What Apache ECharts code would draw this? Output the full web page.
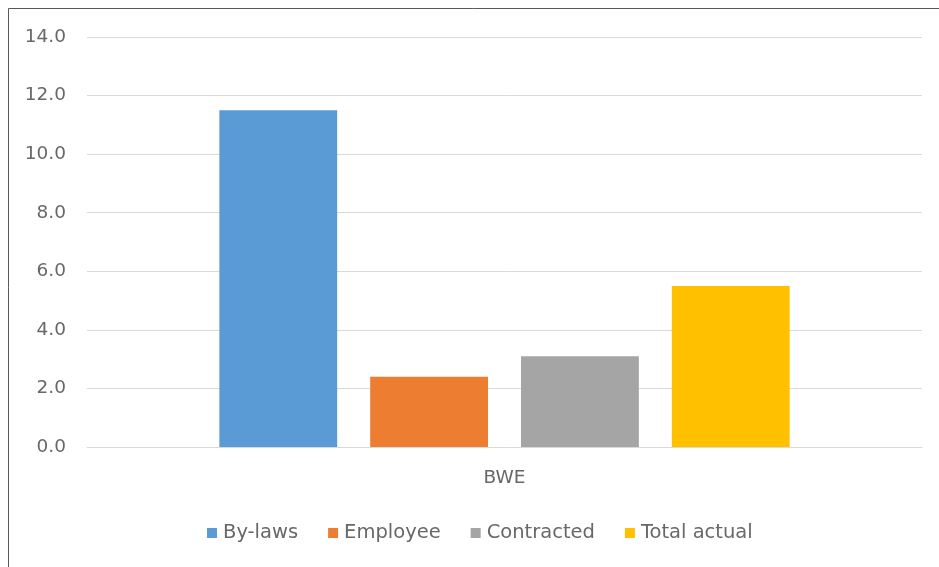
<!DOCTYPE html>
<html>
<head>
<meta charset="utf-8">
<script src="https://cdn.jsdelivr.net/npm/echarts@6/dist/echarts.min.js"></script>
<style>
  html, body { margin: 0; padding: 0; background: #ffffff; }
  #chart { width: 939px; height: 567px; }
</style>
</head>
<body>
<div id="chart"></div>
<script>
// Category and series values
const categories = ['BWE'];
const seriesNames = ['By-laws', 'Employee', 'Contracted', 'Total actual'];
const byLaws = [11.5];
const employee = [2.4];
const contracted = [3.1];
const totalActual = [5.5];
const yTicks = { min: 0, max: 14, interval: 2 };

const colors = ['#5b9bd5', '#ed7d31', '#a5a5a5', '#ffc000'];
const values = [byLaws, employee, contracted, totalActual];

const chart = echarts.init(document.getElementById('chart'), null, { renderer: 'canvas' });

const textStyle = { fontFamily: 'DejaVu Sans, sans-serif', color: '#686868', fontSize: 18.5 };

chart.setOption({
  animation: false,
  backgroundColor: '#ffffff',
  color: colors,
  grid: { left: 87, right: 17, top: 37, bottom: 120, containLabel: false },
  legend: {
    top: 523,
    left: 207,
    padding: 0,
    itemWidth: 10,
    itemHeight: 10,
    itemGap: 30,
    icon: 'rect',
    textStyle: Object.assign({}, textStyle, { fontSize: 19.5, padding: [0, 0, 0, 1] }),
    data: seriesNames
  },
  xAxis: {
    type: 'category',
    data: categories,
    axisLine: { show: true, lineStyle: { color: '#d9d9d9', width: 1 } },
    axisTick: { show: false },
    axisLabel: Object.assign({}, textStyle, { margin: 22 })
  },
  yAxis: {
    type: 'value',
    min: yTicks.min,
    max: yTicks.max,
    interval: yTicks.interval,
    axisLine: { show: false },
    axisTick: { show: false },
    splitLine: { lineStyle: { color: '#d9d9d9', width: 1 } },
    axisLabel: Object.assign({}, textStyle, {
      margin: 21,
      formatter: v => v.toFixed(1)
    })
  },
  series: seriesNames.map((name, i) => ({
    name: name,
    type: 'bar',
    data: values[i],
    barGap: '28%',
    barCategoryGap: '31.7%',
    itemStyle: { color: colors[i] }
  })),
  graphic: [
    {
      type: 'polyline',
      silent: true,
      shape: { points: [[8.5, 567], [8.5, 8.5], [939, 8.5]] },
      style: { stroke: '#595959', lineWidth: 1, fill: null }
    }
  ]
});
</script>
</body>
</html>
